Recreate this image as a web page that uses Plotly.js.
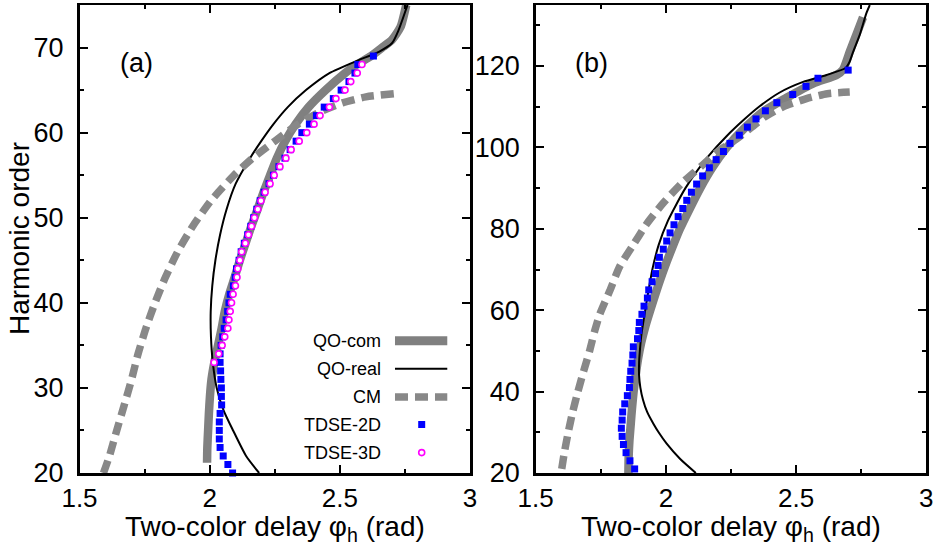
<!DOCTYPE html>
<html><head><meta charset="utf-8">
<script src="https://cdn.plot.ly/plotly-3.0.1.min.js"></script>
<style>html,body{margin:0;padding:0;background:#fff}</style>
</head><body><div id="chart" style="width:938px;height:550px"></div>
<script>
// ---------- panel (a) ----------
const aQOcomH = [21.2,23,25,27,29,31,33,35,37,39,41,43,45,47,49,51,53,55,57,59,61,63,65,67,68,69,70.1,70.9,72.4,75];
const aQOcomX = [1.990,1.991,1.994,1.997,2.001,2.007,2.018,2.032,2.046,2.058,2.075,2.096,2.116,2.138,2.160,2.184,2.207,2.232,2.258,2.290,2.330,2.380,2.445,2.520,2.565,2.620,2.667,2.700,2.733,2.755];
const aQOrealH = [20,22,25,27.4,30,33,36,39,42,45,48,51,54,57,59,61,63,65,67,68.5,69.5,70.5,72,75];
const aQOrealX = [2.190,2.140,2.090,2.053,2.027,2.012,2.005,2.004,2.010,2.022,2.040,2.065,2.100,2.155,2.198,2.245,2.300,2.370,2.460,2.570,2.650,2.700,2.725,2.760];
const aCMH = [20,22,25,28,31,34,37,40,43,46,49,52,55,57,59,61,62.5,63.5,64.2,64.6];
const aCMX = [1.592,1.615,1.643,1.672,1.700,1.725,1.755,1.790,1.830,1.877,1.935,2.005,2.094,2.165,2.250,2.340,2.428,2.510,2.600,2.717];
const a2DH = [20,21,22,23,24,25,26,27,28,29,30,31,32,33,34,35,36,37,38,39,40,41,42,43,44,45,46,47,48,49,50,51,52,53,54,55,56,57,58,59,60,61,62,63,64,65,66,67,68,69];
const a2DX = [2.088,2.070,2.052,2.040,2.037,2.037,2.037,2.040,2.046,2.045,2.045,2.043,2.042,2.040,2.040,2.044,2.050,2.056,2.063,2.069,2.074,2.079,2.091,2.098,2.103,2.113,2.121,2.133,2.146,2.158,2.169,2.181,2.194,2.209,2.228,2.245,2.266,2.289,2.309,2.332,2.354,2.383,2.410,2.440,2.475,2.505,2.535,2.558,2.569,2.629];
const a3DH = [33,34,35,36,37,38,39,40,41,42,43,44,45,46,47,48,49,50,51,52,53,54,55,56,57,58,59,60,61,62,63,64,65,66,67,68];
const a3DX = [2.017,2.035,2.048,2.058,2.070,2.074,2.079,2.084,2.090,2.099,2.105,2.108,2.116,2.123,2.137,2.149,2.161,2.172,2.185,2.197,2.213,2.232,2.248,2.270,2.293,2.313,2.344,2.373,2.401,2.424,2.460,2.485,2.520,2.542,2.567,2.585];

// ---------- panel (b) ----------
const bQOcomH = [20,24,28,32,36,40,44,48,52,56,60,65,70,75,80,85,90,95,100,104.5,108.8,112.2,115.7,117.8,119.1,123.5,127.8,132];
const bQOcomX = [1.856,1.857,1.860,1.865,1.870,1.876,1.884,1.893,1.905,1.921,1.940,1.965,1.992,2.022,2.054,2.092,2.132,2.178,2.234,2.298,2.373,2.463,2.565,2.655,2.680,2.706,2.732,2.757];
const bQOrealH = [20,23.5,27.2,30,32.1,35,38,41,44,47,50,54,59,64,70,76,82,86,90,94,98,102.7,106.6,110.1,113.5,116.1,117.8,119.5,121,123.5,127.8,133,135];
const bQOrealX = [2.115,2.054,2.003,1.972,1.952,1.928,1.912,1.902,1.897,1.897,1.900,1.906,1.918,1.931,1.948,1.972,2.008,2.040,2.075,2.117,2.165,2.232,2.296,2.360,2.437,2.527,2.617,2.690,2.705,2.719,2.745,2.770,2.783];
const bCMH = [21,25,30,35,40,45,50,55,59,64.7,70.8,76,81.1,86.3,91.5,95.8,99,102,105,107.5,110,112,113.2,113.6];
const bCMX = [1.600,1.610,1.625,1.642,1.662,1.684,1.707,1.727,1.746,1.784,1.823,1.874,1.925,1.989,2.066,2.143,2.200,2.270,2.330,2.380,2.450,2.540,2.620,2.706];
const b2DH = [21,23,25,27,29,31,33,35,37,39,41,43,45,47,49,51,53,55,57,59,61,63,65,67,69,71,73,75,77,79,81,83,85,87,89,91,93,95,97,99,101,103,105,107,109,111,113,115,117,119];
const b2DX = [1.880,1.862,1.847,1.837,1.832,1.829,1.832,1.834,1.842,1.852,1.860,1.862,1.865,1.870,1.873,1.875,1.891,1.896,1.898,1.908,1.916,1.929,1.934,1.947,1.960,1.970,1.975,1.990,2.003,2.016,2.031,2.047,2.065,2.080,2.098,2.118,2.141,2.167,2.193,2.221,2.246,2.282,2.313,2.346,2.382,2.426,2.487,2.538,2.584,2.700];

// ---------- text ----------
const legendNames = ['QO-com','QO-real','CM','TDSE-2D','TDSE-3D'];
const panelLabels = ['(a)','(b)'];
const xTitle = 'Two-color delay φ<sub>h</sub> (rad)';
const yTitle = 'Harmonic order';

const FONT = 'Liberation Sans, Arial, sans-serif';
const GRAY = 'rgb(128,128,128)';
const GRAY2 = 'rgb(136,136,136)';

function lineTrace(x,y,xa,ya,line){return {x:x,y:y,xaxis:xa,yaxis:ya,type:'scatter',mode:'lines',line:line,showlegend:false,hoverinfo:'skip'};}
function comTrace(x,y,xa,ya){return lineTrace(x,y,xa,ya,{color:GRAY,width:8.5,shape:'spline',smoothing:0.6});}
function realTrace(x,y,xa,ya){return lineTrace(x,y,xa,ya,{color:'black',width:2,shape:'spline',smoothing:0.6});}
function cmTrace(x,y,xa,ya){return lineTrace(x,y,xa,ya,{color:GRAY2,width:7.5,dash:'13px,7px',shape:'spline',smoothing:0.6});}
function sqTrace(x,y,xa,ya){return {x:x,y:y,xaxis:xa,yaxis:ya,type:'scatter',mode:'markers',cliponaxis:false,marker:{symbol:'square',size:7,color:'#0000ff',line:{width:0}},showlegend:false,hoverinfo:'skip'};}
function ciTrace(x,y,xa,ya){return {x:x,y:y,xaxis:xa,yaxis:ya,type:'scatter',mode:'markers',cliponaxis:false,marker:{symbol:'circle',size:6,color:'white',line:{width:1.6,color:'#ff00ff'}},showlegend:false,hoverinfo:'skip'};}

const data = [
  comTrace(aQOcomX,aQOcomH,'x','y'), realTrace(aQOrealX,aQOrealH,'x','y'), cmTrace(aCMX,aCMH,'x','y'),
  sqTrace(a2DX,a2DH,'x','y'), ciTrace(a3DX,a3DH,'x','y'),
  comTrace(bQOcomX,bQOcomH,'x2','y2'), realTrace(bQOrealX,bQOrealH,'x2','y2'), cmTrace(bCMX,bCMH,'x2','y2'),
  sqTrace(b2DX,b2DH,'x2','y2')
];

function xax(dom, anchor){
  return {domain:dom, anchor:anchor, range:[1.5,3], tick0:1.5, dtick:0.5, showgrid:false, zeroline:false,
    showline:true, linecolor:'black', linewidth:2.5, mirror:'ticks', ticks:'inside', ticklen:8, tickwidth:2, tickcolor:'black',
    minor:{dtick:0.25, ticks:'inside', ticklen:4, tickwidth:2, tickcolor:'black', showgrid:false},
    tickfont:{family:FONT,size:26,color:'black'}, ticklabelstandoff:0, fixedrange:true};
}
function yax(range, dt, mdt, anchor){
  return {domain:[0,1], anchor:anchor, range:range, tick0:20, dtick:dt, showgrid:false, zeroline:false,
    showline:true, linecolor:'black', linewidth:2.5, mirror:'ticks', ticks:'inside', ticklen:8, tickwidth:2, tickcolor:'black',
    minor:{dtick:mdt, ticks:'inside', ticklen:4, tickwidth:2, tickcolor:'black', showgrid:false},
    tickfont:{family:FONT,size:27,color:'black'}, ticklabelstandoff:8, fixedrange:true};
}

// legend geometry (in panel-(a) domain fractions)
const legRows = [0.2824,0.2225,0.1626,0.1036,0.0436];
const annotations = [];
legendNames.forEach((n,i)=>annotations.push({xref:'x domain',yref:'y domain',x:0.7764,y:legRows[i],xanchor:'right',yanchor:'middle',showarrow:false,text:n,font:{family:FONT,size:18,color:'black'}}));
annotations.push({xref:'x domain',yref:'y domain',x:0.1447,y:0.8766,xanchor:'center',yanchor:'middle',showarrow:false,text:panelLabels[0],font:{family:FONT,size:27,color:'black'}});
annotations.push({xref:'x2 domain',yref:'y2 domain',x:0.144,y:0.8766,xanchor:'center',yanchor:'middle',showarrow:false,text:panelLabels[1],font:{family:FONT,size:27,color:'black'}});
// axis titles
annotations.push({xref:'x domain',yref:'y domain',x:0.5,y:-0.118,xanchor:'center',yanchor:'middle',showarrow:false,text:xTitle,font:{family:FONT,size:28,color:'black'}});
annotations.push({xref:'x2 domain',yref:'y2 domain',x:0.5,y:-0.118,xanchor:'center',yanchor:'middle',showarrow:false,text:xTitle,font:{family:FONT,size:28,color:'black'}});
annotations.push({xref:'paper',yref:'y domain',x:19/938,y:0.5,xanchor:'center',yanchor:'middle',textangle:-90,showarrow:false,text:yTitle,font:{family:FONT,size:28,color:'black'}});

const L0 = 0.8079, L1 = 0.9418, LM = 0.8763;
const shapes = [
  {type:'line',xref:'x domain',yref:'y domain',x0:L0,x1:L1,y0:legRows[0],y1:legRows[0],line:{color:GRAY,width:9}},
  {type:'line',xref:'x domain',yref:'y domain',x0:L0,x1:L1,y0:legRows[1],y1:legRows[1],line:{color:'black',width:2}},
  {type:'line',xref:'x domain',yref:'y domain',x0:L0,x1:L1,y0:legRows[2],y1:legRows[2],line:{color:GRAY2,width:7.5,dash:'13px,7px'}},
  {type:'rect',xref:'x domain',yref:'y domain',xsizemode:'pixel',ysizemode:'pixel',xanchor:LM,yanchor:legRows[3],x0:-3.5,x1:3.5,y0:-3.5,y1:3.5,fillcolor:'#0000ff',line:{width:0}},
  {type:'circle',xref:'x domain',yref:'y domain',xsizemode:'pixel',ysizemode:'pixel',xanchor:LM,yanchor:legRows[4],x0:-3,x1:3,y0:-3,y1:3,fillcolor:'white',line:{color:'#ff00ff',width:1.6}}
];

const layout = {
  width:938, height:550, margin:{l:0,r:0,t:5.3,b:77.3,pad:0},
  paper_bgcolor:'white', plot_bgcolor:'white', showlegend:false,
  font:{family:FONT,color:'black'},
  xaxis: xax([0.08476,0.50107],'y'),
  yaxis: yax([20,75],10,5,'x'),
  xaxis2: xax([0.5711,0.98753],'y2'),
  yaxis2: yax([20,135],20,10,'x2'),
  annotations: annotations, shapes: shapes
};
Plotly.newPlot('chart', data, layout, {staticPlot:true, displayModeBar:false});
</script></body></html>
